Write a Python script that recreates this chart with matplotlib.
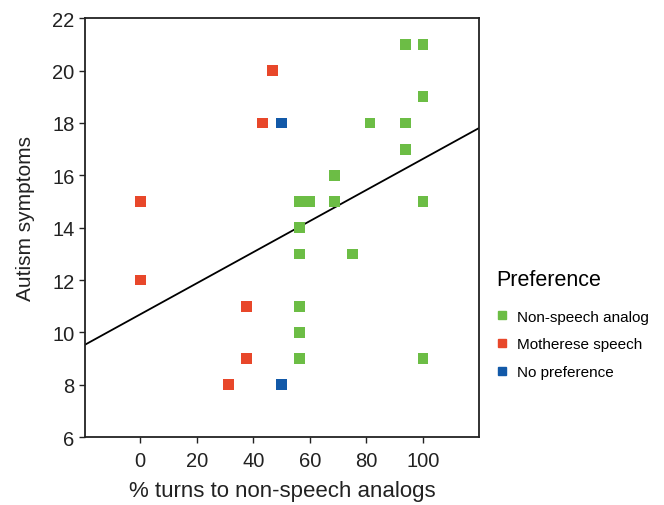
import matplotlib.pyplot as plt
from matplotlib.lines import Line2D

plt.rcParams['font.family'] = ['Liberation Sans', 'DejaVu Sans']

# preference groups: x = % turns to non-speech analogs, y = autism symptoms
nonspeech_x = [93.75, 100, 100, 81.25, 93.75, 93.75, 68.75, 56.25, 60, 68.75,
               100, 56.25, 56.25, 75, 56.25, 56.25, 56.25, 100]
nonspeech_y = [21, 21, 19, 18, 18, 17, 16, 15, 15, 15,
               15, 14, 13, 13, 11, 10, 9, 9]
motherese_x = [46.7, 43.3, 0, 0, 37.5, 37.5, 31.25]
motherese_y = [20, 18, 15, 12, 11, 9, 8]
nopref_x = [50, 50]
nopref_y = [18, 8]

# regression line
fit_intercept = 10.69
fit_slope = 0.0594

labels = ['Non-speech analog', 'Motherese speech', 'No preference']
colors = ['#6cbd45', '#e8472a', '#1259a8']

fig = plt.figure(figsize=(6.64, 5.06), dpi=100)
ax = fig.add_axes([0.128, 0.134, 0.593, 0.828])

xlim = (-19.5, 119.7)
ax.plot(xlim, [fit_intercept + fit_slope * x for x in xlim], color='black', lw=1.3, zorder=2)

groups = [(nonspeech_x, nonspeech_y), (motherese_x, motherese_y), (nopref_x, nopref_y)]
for (xs, ys), c in zip(groups, colors):
    ax.scatter(xs, ys, marker='s', s=60, color=c, edgecolors='none', zorder=3)

ax.set_xlim(xlim)
ax.set_ylim(6, 22)
ax.set_xticks(range(0, 101, 20))
ax.set_yticks(range(6, 23, 2))
ax.tick_params(labelsize=14.5, length=4, width=1, colors='#222222', labelcolor='#222222')
ax.tick_params(axis='x', pad=6)
for sp in ax.spines.values():
    sp.set_linewidth(1.3)
    sp.set_color('#222222')

ax.set_xlabel('% turns to non-speech analogs', fontsize=16, color='#222222', labelpad=7)
ax.set_ylabel('Autism symptoms', fontsize=15, color='#222222')
ax.yaxis.set_label_coords(-0.127, 0.525)

handles = [Line2D([], [], marker='s', ls='none', color=c, markersize=6) for c in colors]
leg = ax.legend(handles, labels, title='Preference', loc='center left',
                bbox_to_anchor=(1.03, 0.27), frameon=False, fontsize=11,
                title_fontsize=15.5, handletextpad=0.6, labelspacing=0.9,
                handlelength=0.7, borderaxespad=0)
leg._legend_box.align = 'left'
leg._legend_box.sep = 14

fig.savefig('out.png', dpi=100)
